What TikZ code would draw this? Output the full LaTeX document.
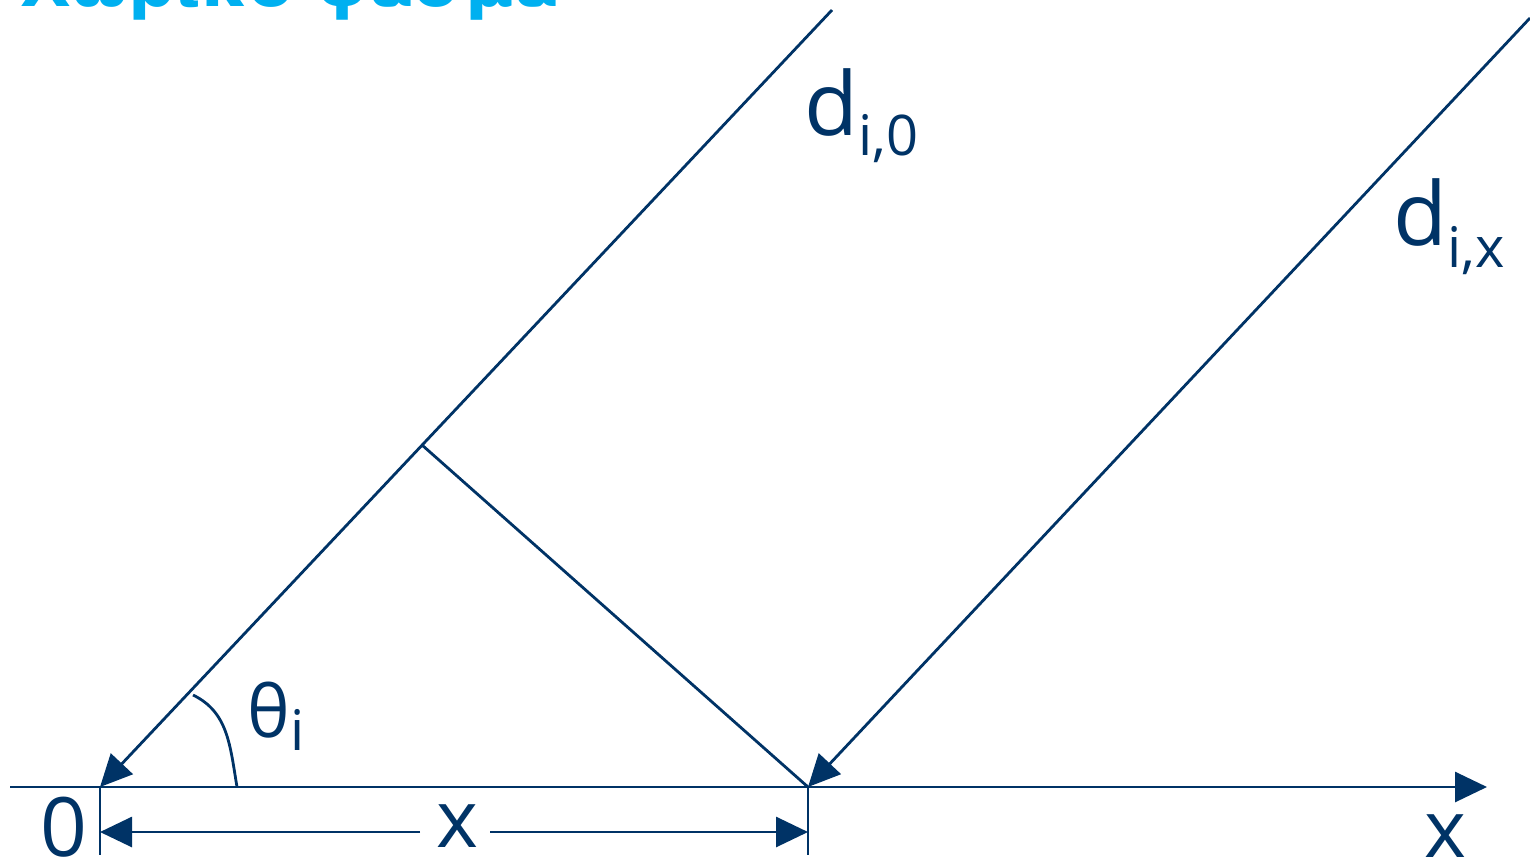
\documentclass[tikz,border=0pt]{standalone}
\usepackage{fontspec}
\setmainfont{Open Sans}
\newfontfamily\titlefont{DejaVu Sans}
\usetikzlibrary{arrows.meta}
\definecolor{navy}{RGB}{0,51,102}
\definecolor{skyb}{RGB}{0,176,240}
\newcommand{\lowsub}[2]{\raisebox{-#1}{\fontsize{28}{28}\selectfont #2}}
\begin{document}
\begin{tikzpicture}[x=0.5pt,y=-0.5pt,
  ln/.style={draw=navy,line width=1.4pt},
  arr/.style={ln,-{Triangle[length=16pt,width=15pt]}},
  lbl/.style={text=navy,inner sep=0pt,anchor=base west}]
\useasboundingbox (0,0) rectangle (1530,862);
\fill[white] (0,0) rectangle (1530,862);
% title (cut off at top)
\node[anchor=base west,text=skyb,inner sep=0pt,font=\titlefont\bfseries\fontsize{33}{33}\selectfont] (title) at (20,6) {Χωρικό φάσμα};
% coordinates
\coordinate (O) at (100,787);
\coordinate (P) at (808,787);
\coordinate (A0) at (10,787);
\coordinate (A1) at (1487,787);
\coordinate (S1) at (832,10);
\coordinate (S2) at (1530,18);
\coordinate (F) at (422,445);
\coordinate (T0) at (100,855);
\coordinate (T1) at (808,855);
\coordinate (L0) at (100,832);
\coordinate (L1) at (808,832);
\coordinate (M0) at (420,832);
\coordinate (M1) at (490,832);
\coordinate (Q1) at (193,695);
\coordinate (Q2) at (237,787);
% axis
\draw[arr] (A0) -- (A1);
% rays
\draw[arr] (S1) -- (O);
\draw[arr] (S2) -- (P);
% perpendicular
\draw[ln] (F) -- (P);
% ticks
\draw[ln] (O) -- (T0);
\draw[ln] (P) -- (T1);
% dimension
\draw[arr] (M0) -- (L0);
\draw[arr] (M1) -- (L1);
% angle arc
\draw[ln] (Q1) .. controls (228,712) and (230,745) .. (Q2);
% labels
\node[lbl,font=\fontsize{41}{41}\selectfont] (zero) at (40,856) {0};
\node[lbl,font=\fontsize{40}{40}\selectfont] (xdim) at (436,847) {x};
\node[lbl,font=\fontsize{40}{40}\selectfont] (xax) at (1424,857) {x};
\node[lbl,font=\fontsize{44}{44}\selectfont] (d0) at (804,135) {d\lowsub{10pt}{i,0}};
\node[lbl,font=\fontsize{44}{44}\selectfont] (dx) at (1393,245) {d\lowsub{11pt}{i,x}};
\node[lbl,font=\fontsize{36}{36}\selectfont] (th) at (247,737) {θ\lowsub{6.5pt}{i}};
\end{tikzpicture}
\end{document}
